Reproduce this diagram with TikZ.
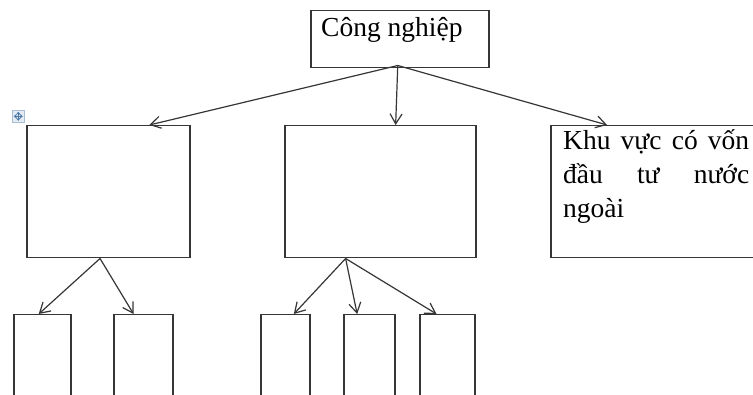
\documentclass[tikz,border=0pt]{standalone}
\usepackage{fontspec}
\setmainfont{Liberation Serif}
\usetikzlibrary{arrows.meta,calc}
\definecolor{lineC}{HTML}{363636}
\definecolor{iconFill}{HTML}{E3ECF5}
\definecolor{iconLine}{HTML}{A9BED6}
\definecolor{iconArrow}{HTML}{4F78A6}
\begin{document}
\begin{tikzpicture}[x=1pt,y=-1pt,
  box/.style={draw=lineC, line width=1.5pt, inner sep=0pt, anchor=north west},
  conn/.style={draw=lineC, line width=1.2pt, -{Straight Barb[length=10pt,width=12pt]}},
  lbl/.style={font=\fontsize{27.5}{34}\selectfont, inner sep=0pt, anchor=base west, text=black}]
\useasboundingbox (0,0) rectangle (753,395);
\clip (0,0) rectangle (753,395);
\fill[white] (0,0) rectangle (753,395);

% boxes
\node[box, minimum width=178pt, minimum height=57pt] (top) at (310,10) {};
\node[box, minimum width=163pt, minimum height=132pt] (L) at (26,125) {};
\node[box, minimum width=191pt, minimum height=132pt] (M) at (284,125) {};
\node[box, minimum width=210pt, minimum height=132pt] (R) at (550,125) {};
\node[box, minimum width=57pt, minimum height=100pt] (L1) at (13,314) {};
\node[box, minimum width=59pt, minimum height=100pt] (L2) at (113,314) {};
\node[box, minimum width=49pt, minimum height=100pt] (M1) at (260,314) {};
\node[box, minimum width=51pt, minimum height=100pt] (M2) at (343,314) {};
\node[box, minimum width=55pt, minimum height=100pt] (M3) at (419,314) {};

% texts
\node[lbl] (tTop) at (321,37) {Công nghiệp};
\node[lbl] (tR1) at (563,150) {\makebox[186pt][s]{Khu vực có vốn}};
\node[lbl] (tR2) at (563,184) {\makebox[186pt][s]{đầu tư nước}};
\node[lbl] (tR3) at (563,218) {ngoài};

% connectors
\coordinate (s0) at ($(top.south)+(-2,-3)$);
\draw[conn] (s0) -- ($(L.north west)!0.75!(L.north east)$);
\draw[conn] (s0) -- ($(M.north west)!0.58!(M.north east)$);
\draw[conn] (s0) -- ($(R.north west)!0.27!(R.north east)$);

\coordinate (sL) at ($(L.south west)!0.45!(L.south east)$);
\draw[conn] (sL) -- ($(L1.north west)!0.44!(L1.north east)$);
\draw[conn] (sL) -- ($(L2.north west)!0.34!(L2.north east)$);

\coordinate (sM) at ($(M.south west)!0.32!(M.south east)$);
\draw[conn] (sM) -- ($(M1.north west)!0.67!(M1.north east)$);
\draw[conn] (sM) -- ($(M2.north west)!0.27!(M2.north east)$);
\draw[conn] (sM) -- ($(M3.north west)!0.31!(M3.north east)$);

% table move handle icon
\node[draw=iconLine, fill=iconFill, line width=0.6pt, minimum size=12pt, inner sep=0pt, anchor=north west] (icon) at (12,110) {};
\draw[iconArrow, line width=0.9pt, {Straight Barb[length=2pt,width=3.5pt]}-{Straight Barb[length=2pt,width=3.5pt]}] ($(icon.center)+(-4.5,0)$) -- ($(icon.center)+(4.5,0)$);
\draw[iconArrow, line width=0.9pt, {Straight Barb[length=2pt,width=3.5pt]}-{Straight Barb[length=2pt,width=3.5pt]}] ($(icon.center)+(0,-4.5)$) -- ($(icon.center)+(0,4.5)$);
\end{tikzpicture}
\end{document}
